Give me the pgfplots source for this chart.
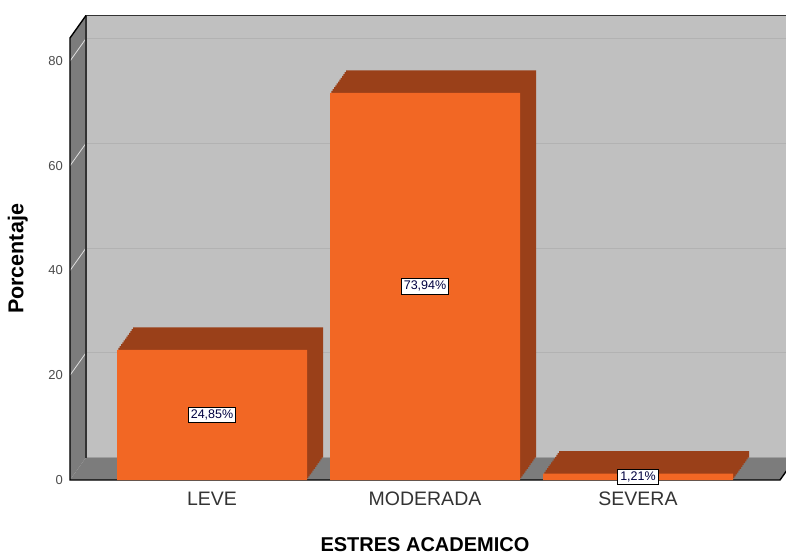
\documentclass[border=0pt]{standalone}
\usepackage{pgfplots}
\pgfplotsset{compat=1.18}
\usepackage{pgfplotstable}
\usepackage{fontspec}
\setmainfont{Liberation Sans}
\definecolor{wallback}{HTML}{C0C0C0}
\definecolor{wallside}{HTML}{7C7C7C}
\definecolor{gridc}{HTML}{B2B2B2}
\definecolor{barfront}{HTML}{F26724}
\definecolor{bardark}{HTML}{9A4019}
\pgfplotstableread{
x y
0 24.85
1 73.94
2 1.21
}\datatbl
\begin{document}
\begin{tikzpicture}[x=1pt,y=1pt]
\useasboundingbox (0,0) rectangle (786,555);
\clip (0,0) rectangle (786,555);
\begin{axis}[
  scale only axis, width=710pt, height=442pt,
  at={(86pt,97.5pt)}, anchor=south west,
  xmin=-0.6667, xmax=2.6667, ymin=0, ymax=84.4,
  clip=false,
  axis line style={draw=none},
  tick style={draw=none},
  major tick length=0pt,
  ytick={0,20,40,60,80},
  xtick={0,1,2}, xticklabels={LEVE,MODERADA,SEVERA},
  /pgf/number format/assume math mode=true,
  yticklabel style={font=\fontsize{13}{15}\selectfont, text=black!70, inner sep=0pt, anchor=east, xshift=-7pt},
  xticklabel style={font=\fontsize{19.5}{22}\selectfont, text=black!80, inner sep=0pt, anchor=north, yshift=-12pt},
  ymajorgrids,
  major grid style={draw=gridc, line width=1pt, xshift=16pt, yshift=22.5pt},
  axis background/.style={fill=wallback, xshift=16pt, yshift=22.5pt},
  xlabel={ESTRES ACADEMICO}, ylabel={Porcentaje},
  xlabel style={at={(rel axis cs:0.5,0)}, anchor=north, yshift=-57pt, inner sep=0pt, font=\bfseries\fontsize{20}{24}\selectfont},
  ylabel style={at={(rel axis cs:0,0.5)}, anchor=south, yshift=42pt, inner sep=0pt, font=\bfseries\fontsize{21.5}{24}\selectfont},
]
% side wall and floor
\fill[wallside] (rel axis cs:0,0) -- (rel axis cs:0,1) -- ([shift={(16pt,22.5pt)}]rel axis cs:0,1) -- ([shift={(16pt,22.5pt)}]rel axis cs:0,0) -- cycle;
\fill[wallside] (rel axis cs:0,0) -- (rel axis cs:1,0) -- ([shift={(16pt,22.5pt)}]rel axis cs:1,0) -- ([shift={(16pt,22.5pt)}]rel axis cs:0,0) -- cycle;
\pgfplotsinvokeforeach{20,40,60,80}{
  \draw[white!75!gray, line width=0.8pt] (axis cs:-0.6667,#1) -- ([shift={(16pt,22.5pt)}]axis cs:-0.6667,#1);
}
\draw[black!80, line width=1.2pt] ([shift={(16pt,22.5pt)}]rel axis cs:0,0) -- ([shift={(16pt,22.5pt)}]rel axis cs:0,1) -- ([shift={(16pt,22.5pt)}]rel axis cs:1.1,1);
\draw[black, line width=1.4pt] ([shift={(16pt,22.5pt)}]rel axis cs:1,0) -- (rel axis cs:1,0) -- (rel axis cs:0,0) -- (rel axis cs:0,1) -- ([shift={(16pt,22.5pt)}]rel axis cs:0,1);
% bars: extruded depth
\pgfplotsinvokeforeach{12,11,10,9,8,7,6,5,4,3,2,1}{
  \addplot[ybar, bar width=0.892, bar shift=0pt, fill=bardark, draw=none, xshift={16pt*#1/12}, yshift={22.5pt*#1/12}] table[x=x,y=y]{\datatbl};
}
\addplot[ybar, bar width=0.892, bar shift=0pt, fill=barfront, draw=none] table[x=x,y=y]{\datatbl};
% labels
\addplot[draw=none, mark=none, point meta=explicit,
  nodes near coords={\pgfmathprintnumber[fixed,fixed zerofill,precision=2,use comma]{\pgfplotspointmeta}\%},
  nodes near coords align=center,
  every node near coord/.append style={anchor=center, fill=white, draw=black, line width=0.8pt, inner sep=2.5pt, font=\fontsize{12.5}{14}\selectfont, text=black!75!blue}]
  table[x=x, y expr=\thisrow{y}/2, meta=y]{\datatbl};
\end{axis}
\end{tikzpicture}
\end{document}
